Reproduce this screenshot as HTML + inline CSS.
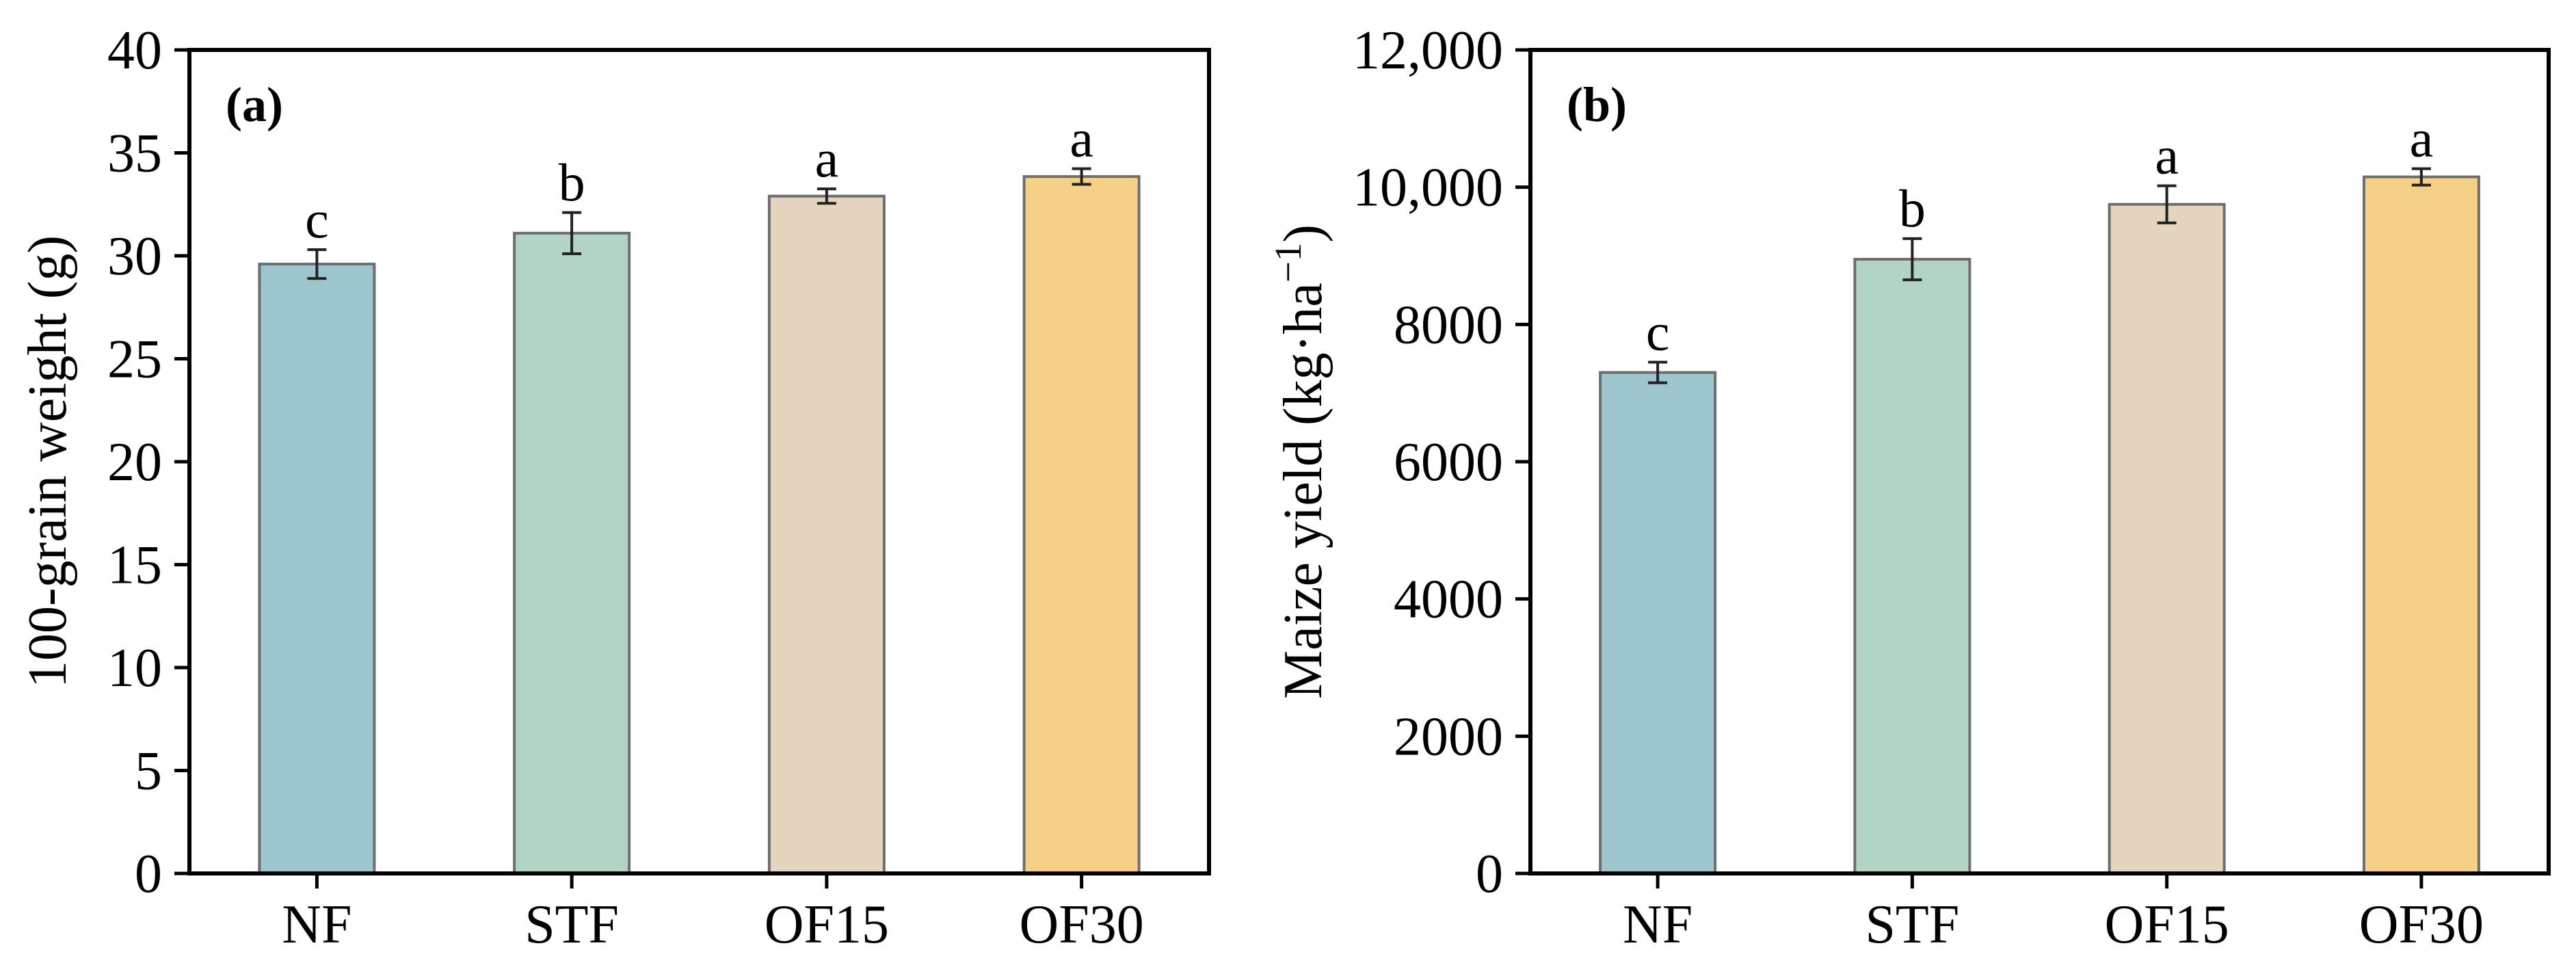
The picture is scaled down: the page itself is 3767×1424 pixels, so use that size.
<!DOCTYPE html>
<html><head><meta charset="utf-8"><style>
html,body{margin:0;padding:0;background:#fff;}
svg{display:block;}
text{font-family:"Liberation Serif","Times New Roman",serif;fill:#000;}
</style></head><body>
<svg id="chart" width="3767" height="1424" viewBox="0 0 3767 1424" xmlns="http://www.w3.org/2000/svg"></svg>
<script>
const categories = ["NF","STF","OF15","OF30"];
const weightValues = [29.6, 31.1, 32.9, 33.85];
const weightErrors = [0.7, 1.0, 0.35, 0.38];
const weightLetters = ["c","b","a","a"];
const weightTicks = [0,5,10,15,20,25,30,35,40];
const weightTickLabels = ["0","5","10","15","20","25","30","35","40"];
const yieldValues = [7300, 8950, 9750, 10150];
const yieldErrors = [150, 300, 270, 120];
const yieldLetters = ["c","b","a","a"];
const yieldTicks = [0,2000,4000,6000,8000,10000,12000];
const yieldTickLabels = ["0","2000","4000","6000","8000","10,000","12,000"];
const colors = ["#9cc5ce","#b1d4c3","#e5d5be","#f6d086"];

const NS = "http://www.w3.org/2000/svg";
const svg = document.getElementById("chart");
function mk(tag, attrs, parent){
  const e = document.createElementNS(NS, tag);
  for (const k in attrs) e.setAttribute(k, attrs[k]);
  (parent||svg).appendChild(e);
  return e;
}

function panel(cfg){
  const g = mk("g", {});
  
  
  const L=cfg.left, R=cfg.right, T=73, B=1277;
  const yScale = v => B - (v - cfg.min)/(cfg.max - cfg.min)*(B-T);
  const band = (R-L)/categories.length;
  const xScale = i => L + band*(i+0.5);
  const bw = 168;
  // bars
  categories.forEach((c,i)=>{
    const y = yScale(cfg.values[i]);
    const r = mk("rect",{x:xScale(i)-bw/2,y:y,width:bw,height:B-y,fill:colors[i],stroke:"#6e6e6e","stroke-width":4},g);
    
    
    const yt = yScale(cfg.values[i]+cfg.errors[i]), yb = yScale(cfg.values[i]-cfg.errors[i]);
    const eg = mk("g",{stroke:"#222","stroke-width":4},g);
    
    
    mk("line",{x1:xScale(i),x2:xScale(i),y1:yt,y2:yb},eg);
    mk("line",{x1:xScale(i)-14,x2:xScale(i)+14,y1:yt,y2:yt},eg);
    mk("line",{x1:xScale(i)-14,x2:xScale(i)+14,y1:yb,y2:yb},eg);
    const lt = mk("text",{x:xScale(i),y:yt-18,"text-anchor":"middle","font-size":78},g);
    lt.textContent = cfg.letters[i];
    
    
    // x tick
    mk("line",{x1:xScale(i),x2:xScale(i),y1:B,y2:B+22,stroke:"#000","stroke-width":5},g);
    const xl = mk("text",{x:xScale(i),y:1378,"text-anchor":"middle","font-size":80},g);
    xl.textContent = c;
    
    
  });
  // y ticks
  cfg.ticks.forEach((t,j)=>{
    const y = yScale(t);
    mk("line",{x1:L-22,x2:L,y1:y,y2:y,stroke:"#000","stroke-width":5},g);
    const tl = mk("text",{x:L-40,y:y+27,"text-anchor":"end","font-size":80},g);
    tl.textContent = cfg.tickLabels[j];
    
    
  });
  const frame = mk("rect",{x:L,y:T,width:R-L,height:B-T,fill:"none",stroke:"#000","stroke-width":6},g);
  
  
  const pl = mk("text",{x:L+53,y:177,"font-size":72,"font-weight":"bold"},g);
  pl.textContent = cfg.label;
  
  
  const yt = mk("text",{x:0,y:0,"text-anchor":"middle","font-size":80,transform:`translate(${cfg.titleX},${(T+B)/2}) rotate(-90)`},g);
  yt.innerHTML = cfg.title;
  
  
}

panel({name:"panel-a-grain-weight",left:277,right:1768,min:0,max:40,values:weightValues,errors:weightErrors,letters:weightLetters,ticks:weightTicks,tickLabels:weightTickLabels,label:"(a)",title:"100-grain weight (g)",titleX:96});
panel({name:"panel-b-maize-yield",left:2238,right:3727,min:0,max:12000,values:yieldValues,errors:yieldErrors,letters:yieldLetters,ticks:yieldTicks,tickLabels:yieldTickLabels,label:"(b)",title:"Maize yield (kg·ha<tspan baseline-shift=\"super\" font-size=\"55\">−1</tspan>)",titleX:1932});
</script>
</body></html>
